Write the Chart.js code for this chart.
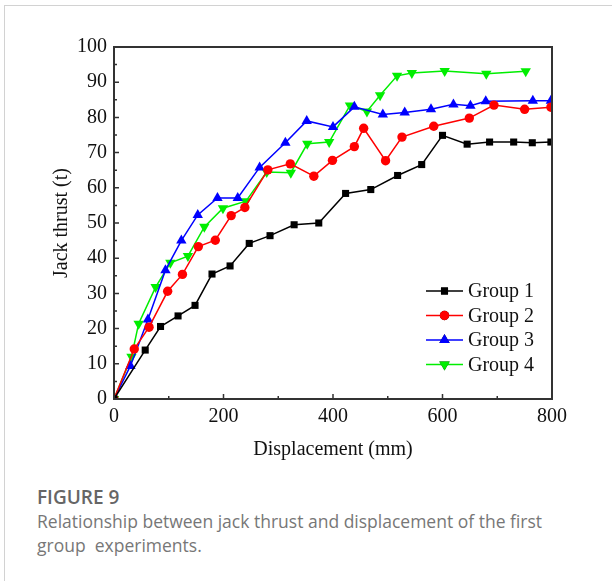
<!DOCTYPE html>
<html>
<head>
<meta charset="utf-8">
<script src="https://cdn.jsdelivr.net/npm/chart.js@4.4.0/dist/chart.umd.min.js"></script>
<style>
  body { margin: 0; background: #fff; width: 612px; height: 581px; overflow: hidden; position: relative; }
  #card { position: absolute; left: 4px; top: 5px; width: 700px; height: 700px;
          border-top: 1.5px solid #d2d2d2; border-left: 1.5px solid #d2d2d2; }
  #myChart { position: absolute; left: 0; top: 0; }
  .fig { position: absolute; left: 37px; top: 484px; font-family: "Open Sans", sans-serif;
         font-weight: 600; font-size: 19px; color: #666; }
  .cap { position: absolute; left: 37px; top: 509px; font-family: "Open Sans", sans-serif;
         font-size: 17.5px; line-height: 24px; color: #777; }
</style>
</head>
<body>
<div id="card"></div>
<canvas id="myChart" width="612" height="470"></canvas>
<div class="fig">FIGURE 9</div>
<div class="cap">Relationship between jack thrust and displacement of the first<br>group&nbsp; experiments.</div>
<script>
// values
const g1X = [0, 57, 85, 117, 148, 179, 212, 247, 285, 329, 374, 423, 469, 518, 562, 600, 645, 686, 730, 764, 798];
const g1Y = [0, 13.9, 20.6, 23.6, 26.6, 35.5, 37.8, 44.2, 46.4, 49.5, 50, 58.4, 59.5, 63.5, 66.6, 74.9, 72.4, 73, 73, 72.8, 73];
const g2X = [0, 37, 64, 98, 125, 154, 185, 214, 239, 281, 322, 365, 399, 439, 456, 496, 526, 584, 649, 694, 750, 798];
const g2Y = [0, 14.2, 20.4, 30.6, 35.4, 43.3, 45.1, 52.1, 54.4, 65.1, 66.8, 63.3, 67.8, 71.7, 76.9, 67.7, 74.4, 77.5, 79.8, 83.5, 82.3, 82.9];
const g3X = [0, 30, 62, 94, 123, 153, 189, 226, 266, 313, 352, 400, 439, 491, 531, 579, 620, 651, 679, 765, 798];
const g3Y = [0, 9.4, 22.6, 36.6, 45, 52.3, 57.1, 57.1, 65.8, 72.8, 79, 77.3, 83, 80.8, 81.4, 82.3, 83.7, 83.3, 84.6, 84.7, 84.7];
const g4X = [0, 32, 45, 76, 103, 135, 165, 199, 241, 279, 323, 353, 393, 431, 462, 486, 517, 544, 604, 680, 752];
const g4Y = [0, 12, 21.4, 31.8, 38.7, 40.6, 48.9, 54.2, 56.2, 64.5, 64.3, 72.5, 73, 83.4, 81.7, 86.3, 91.8, 92.6, 93.2, 92.4, 93.1];
const groupNames = ["Group 1", "Group 2", "Group 3", "Group 4"];
const xTicks = [0, 200, 400, 600, 800];
const yTicks = [0, 10, 20, 30, 40, 50, 60, 70, 80, 90, 100];

const pts = (xs, ys) => xs.map((x, i) => ({ x: x, y: ys[i] }));
const serif = "'Liberation Serif', 'Times New Roman', serif";
const ink = "#333";

function series(label, data, color, style, radius, rotation) {
  return {
    label: label, data: data, showLine: true, borderColor: color, backgroundColor: color,
    borderWidth: 1.5, pointStyle: style, pointRadius: radius, pointHoverRadius: radius,
    pointRotation: rotation, pointBorderWidth: 0, clip: 0, tension: 0
  };
}

// inward ticks, frame and line+marker legend
const frame = {
  id: "frame",
  afterDraw(chart) {
    const c = chart.ctx, a = chart.chartArea;
    const xs = chart.scales.x, ys = chart.scales.y;
    c.save();
    c.strokeStyle = ink;
    c.lineWidth = 1.5;
    c.beginPath();
    for (let v = 0; v <= 800; v += 100) {
      const p = xs.getPixelForValue(v), len = v % 200 === 0 ? 5 : 3;
      c.moveTo(p, a.bottom); c.lineTo(p, a.bottom - len);
    }
    for (let v = 0; v <= 100; v += 5) {
      const p = ys.getPixelForValue(v), len = v % 10 === 0 ? 5 : 3;
      c.moveTo(a.left, p); c.lineTo(a.left + len, p);
    }
    c.stroke();
    c.lineWidth = 2;
    c.strokeRect(a.left, a.top, a.right - a.left, a.bottom - a.top);

    // legend
    const lx = a.left + 312, ly = a.top + 244, gap = 24.5;
    c.font = "20px " + serif;
    c.textBaseline = "middle";
    chart.data.datasets.forEach((ds, i) => {
      const y = ly + i * gap;
      c.strokeStyle = ds.borderColor;
      c.lineWidth = 1.5;
      c.beginPath(); c.moveTo(lx, y); c.lineTo(lx + 37, y); c.stroke();
      Chart.helpers.drawPoint(c, { pointStyle: ds.pointStyle, radius: ds.pointRadius, rotation: ds.pointRotation, borderWidth: 0 }, lx + 18.5, y);
      c.fillStyle = ds.borderColor;
      c.fill();
      c.fillStyle = "#111";
      c.fillText(ds.label, lx + 42, y + 1);
    });
    c.restore();
  }
};

const ctx = document.getElementById("myChart");
new Chart(ctx, {
  type: "scatter",
  data: {
    datasets: [
      series(groupNames[0], pts(g1X, g1Y), "#000000", "rect", 5, 0),
      series(groupNames[1], pts(g2X, g2Y), "#ff0000", "circle", 4.7, 0),
      series(groupNames[2], pts(g3X, g3Y), "#0000ff", "triangle", 6, 0),
      series(groupNames[3], pts(g4X, g4Y), "#00ee00", "triangle", 6, 180),
    ],
  },
  options: {
    responsive: false,
    animation: false,
    events: [],
    layout: { padding: { left: 50, top: 47, right: 60, bottom: 8 } },
    plugins: { legend: { display: false }, tooltip: { enabled: false } },
    scales: {
      x: {
        type: "linear", min: 0, max: 800,
        afterBuildTicks: (s) => { s.ticks = xTicks.map((v) => ({ value: v })); },
        afterFit: (s) => { s.height = 470 - 8 - 399; s.paddingLeft = 0; s.paddingRight = 0; },
        grid: { display: false, drawTicks: false },
        border: { display: false },
        ticks: { padding: 6, color: "#111", font: { family: serif, size: 20 }, maxRotation: 0 },
        title: { display: true, text: "Displacement (mm)", color: "#111", padding: 0, font: { family: serif, size: 20 } },
      },
      y: {
        min: 0, max: 100,
        afterBuildTicks: (s) => { s.ticks = yTicks.map((v) => ({ value: v })); },
        afterFit: (s) => { s.width = 114 - 50; s.paddingTop = 0; s.paddingBottom = 0; },
        grid: { display: false, drawTicks: false },
        border: { display: false },
        ticks: { padding: 7, color: "#111", font: { family: serif, size: 20 } },
        title: { display: true, text: "Jack thrust (t)", color: "#111", padding: 0, font: { family: serif, size: 20 } },
      },
    },
  },
  plugins: [frame],
});
</script>
</body>
</html>
